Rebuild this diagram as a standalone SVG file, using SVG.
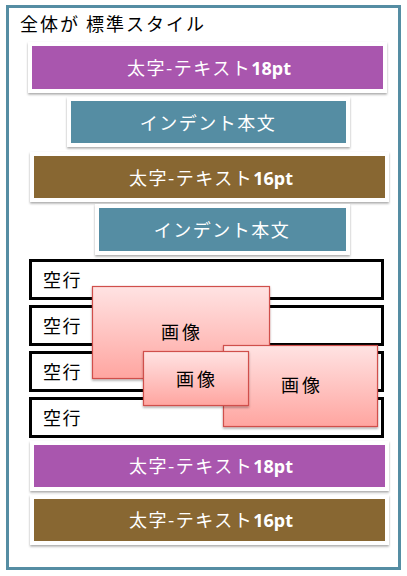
<svg xmlns="http://www.w3.org/2000/svg" width="407" height="576" viewBox="0 0 407 576">
<defs>
<filter id="sh" x="-10%" y="-30%" width="120%" height="160%">
<feDropShadow dx="0" dy="1.5" stdDeviation="1.2" flood-color="#000" flood-opacity="0.35"/>
</filter>
<linearGradient id="pink" x1="0" y1="0" x2="0" y2="1">
<stop offset="0" stop-color="#ffe3e3"/>
<stop offset="1" stop-color="#ffa5a0"/>
</linearGradient>
<style>
.jp{font-family:"Noto Sans CJK JP","Noto Sans",sans-serif;font-size:18px;}
.w{fill:#fff;letter-spacing:1.5px;}
.b{font-family:"Noto Sans","Open Sans",sans-serif;font-weight:bold;letter-spacing:0;}
.k{fill:#000;}
.mat{fill:#fff;filter:url(#sh);}
.row{fill:#fff;stroke:#000;stroke-width:3;}
.img{fill:url(#pink);stroke:#d0504c;stroke-width:1.2;filter:url(#sh);}
</style>
</defs>
<rect x="0" y="0" width="407" height="576" fill="#fff"/>
<g id="frame">
<rect x="7.5" y="6.5" width="392" height="562" fill="#fff" stroke="#558da3" stroke-width="3"/>
<text class="jp k" x="20" y="31" letter-spacing="2">全体が 標準スタイル</text>
</g>
<g id="connectors"></g>
<g id="bold18a">
<rect class="mat" x="28" y="42" width="359" height="51"/>
<rect x="32" y="46" width="351" height="43" fill="#a956ae"/>
<text class="jp w" x="209" y="75" text-anchor="middle">太字-テキスト<tspan class="b">18pt</tspan></text>
</g>
<g id="indent1">
<rect class="mat" x="67" y="97" width="283" height="50"/>
<rect x="71" y="101" width="275" height="42" fill="#558da3"/>
<text class="jp w" x="208" y="130" text-anchor="middle">インデント本文</text>
</g>
<g id="bold16a">
<rect class="mat" x="30" y="152" width="359" height="50"/>
<rect x="34" y="156" width="351" height="42" fill="#886732"/>
<text class="jp w" x="211" y="185" text-anchor="middle">太字-テキスト<tspan class="b">16pt</tspan></text>
</g>
<g id="indent2">
<rect class="mat" x="95" y="204" width="255" height="51"/>
<rect x="99" y="208" width="247" height="43" fill="#558da3"/>
<text class="jp w" x="222" y="237" text-anchor="middle">インデント本文</text>
</g>
<g id="empty1">
<rect class="row" x="30.5" y="260.5" width="352" height="38"/>
<text class="jp k" x="43" y="287" letter-spacing="1.5">空行</text>
</g>
<g id="empty2">
<rect class="row" x="30.5" y="306.5" width="352" height="38"/>
<text class="jp k" x="43" y="333" letter-spacing="1.5">空行</text>
</g>
<g id="empty3">
<rect class="row" x="30.5" y="352.5" width="352" height="38"/>
<text class="jp k" x="43" y="379" letter-spacing="1.5">空行</text>
</g>
<g id="empty4">
<rect class="row" x="30.5" y="398.5" width="352" height="38"/>
<text class="jp k" x="43" y="425" letter-spacing="1.5">空行</text>
</g>
<g id="image1">
<rect class="img" x="92.5" y="286.5" width="177" height="92"/>
<text class="jp k" x="182" y="339" text-anchor="middle" letter-spacing="3">画像</text>
</g>
<g id="image3">
<rect class="img" x="223.5" y="345.5" width="154" height="81"/>
<text class="jp k" x="302" y="392" text-anchor="middle" letter-spacing="3">画像</text>
</g>
<g id="image2">
<rect class="img" x="143.5" y="351.5" width="105" height="54"/>
<text class="jp k" x="197" y="386" text-anchor="middle" letter-spacing="3">画像</text>
</g>
<g id="bold18b">
<rect class="mat" x="30" y="441" width="359" height="50"/>
<rect x="34" y="445" width="351" height="42" fill="#a956ae"/>
<text class="jp w" x="211" y="473" text-anchor="middle">太字-テキスト<tspan class="b">18pt</tspan></text>
</g>
<g id="bold16b">
<rect class="mat" x="30" y="495" width="359" height="50"/>
<rect x="34" y="499" width="351" height="42" fill="#886732"/>
<text class="jp w" x="211" y="527" text-anchor="middle">太字-テキスト<tspan class="b">16pt</tspan></text>
</g>
</svg>
